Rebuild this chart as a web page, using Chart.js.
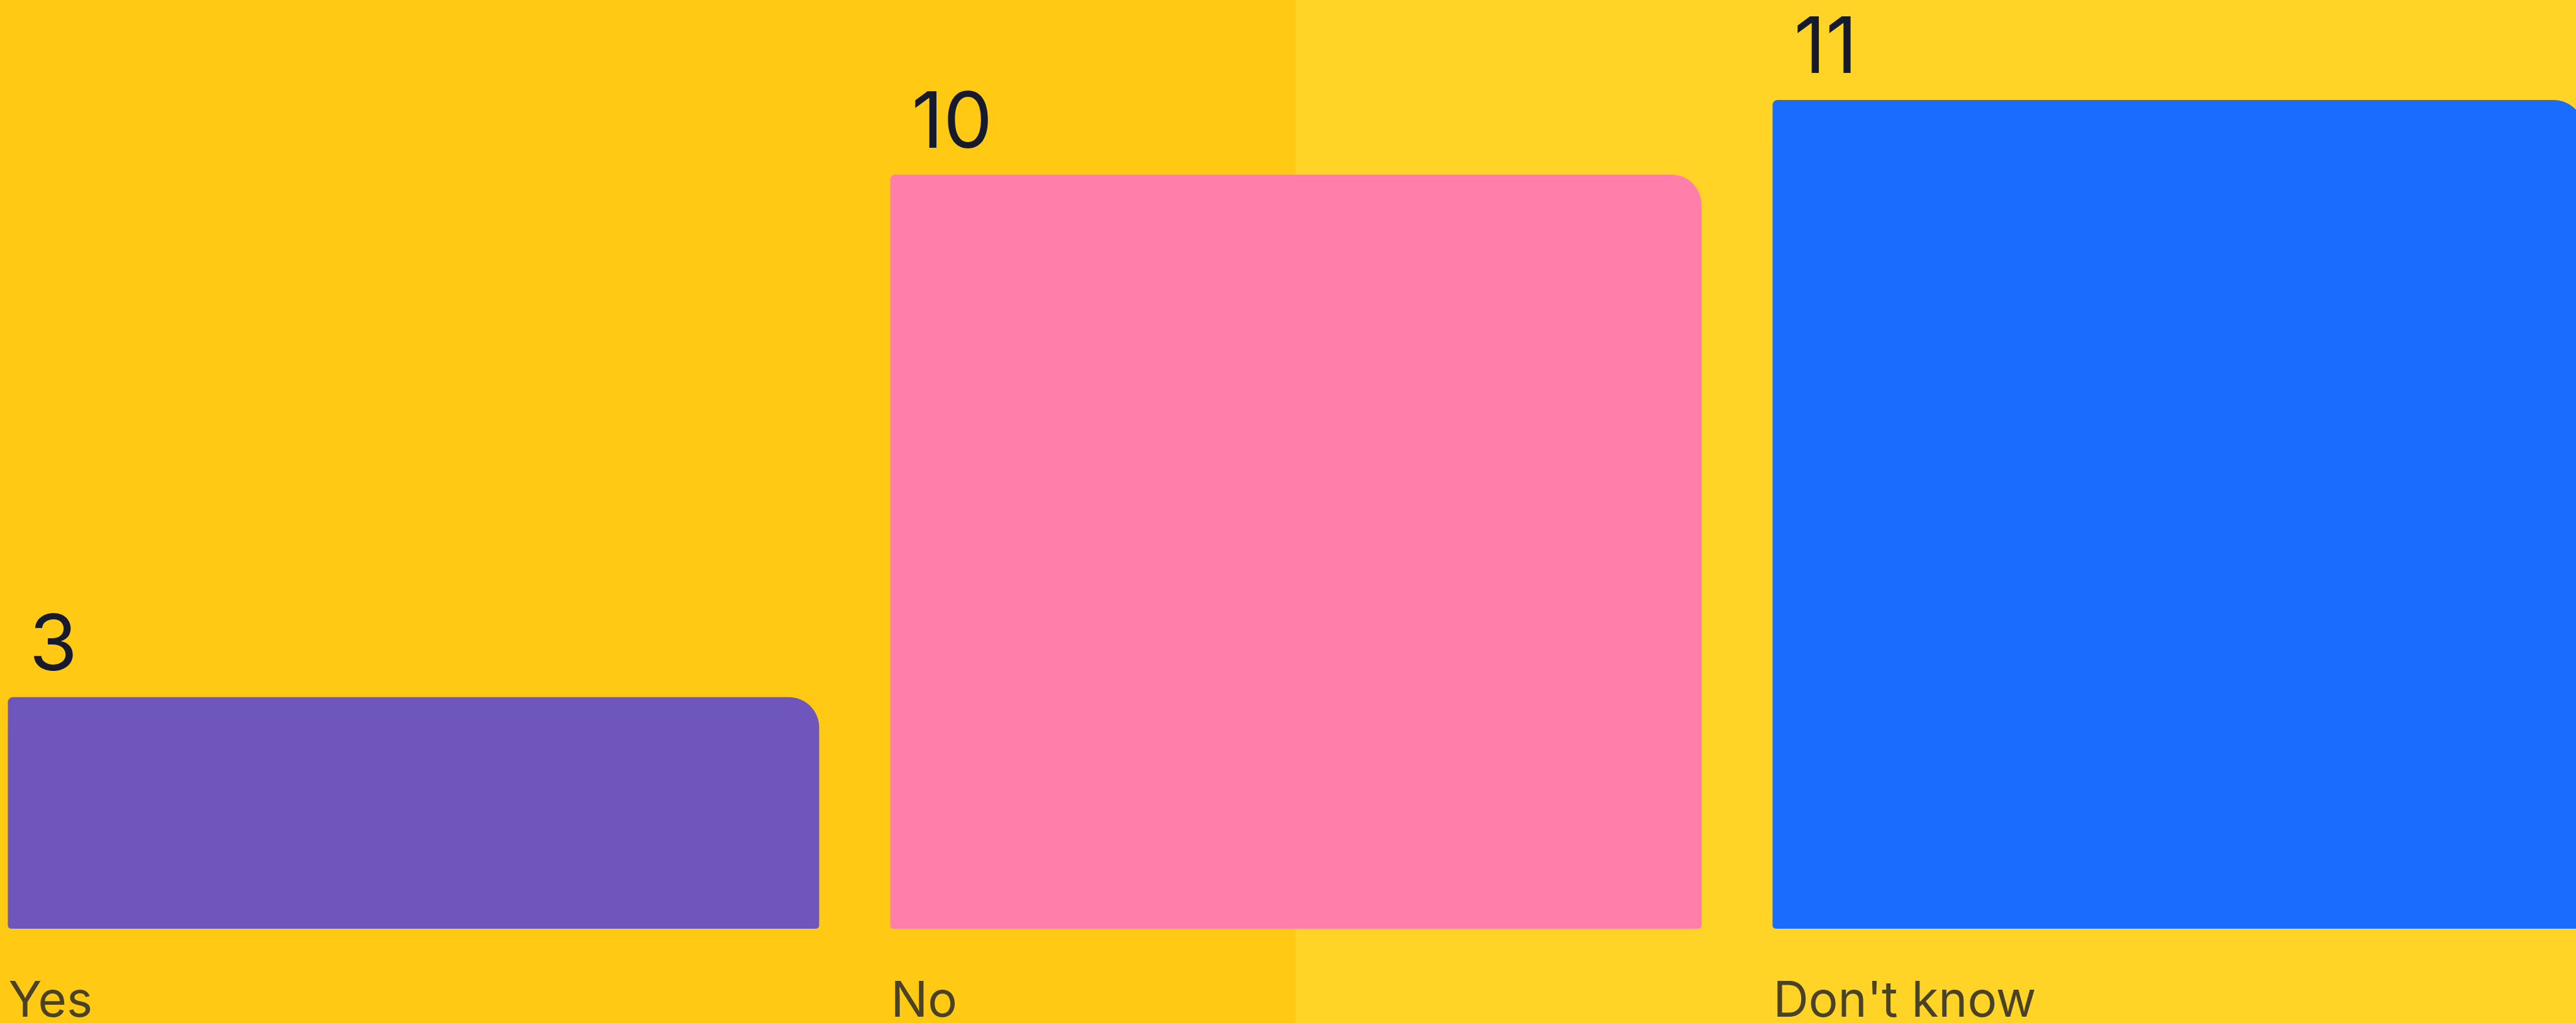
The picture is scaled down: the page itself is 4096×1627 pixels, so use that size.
<!DOCTYPE html>
<html>
<head>
<meta charset="utf-8">
<script src="https://cdn.jsdelivr.net/npm/chart.js@4/dist/chart.umd.min.js"></script>
<style>
  html, body {
    margin: 0;
    padding: 0;
    width: 4096px;
    height: 1627px;
    overflow: hidden;
    /* two-tone page backdrop */
    background: linear-gradient(to right, #FFC914 0, #FFC914 2060px, #FFD426 2060px, #FFD426 100%);
  }
  #wrap {
    position: absolute;
    left: -44px;
    top: 0;
    width: 4209px;
    height: 1627px;
  }
</style>
</head>
<body>
<div id="wrap"><canvas id="chart"></canvas></div>
<script>
// Survey answers
const categories = ['Yes', 'No', "Don't know"];
const responses = [3, 10, 11];
const barColors = ['#6F56BC', '#FF7FAA', '#1A6CFF'];

// Bars start a little below the zero line, like a plinth
const barFoot = -0.101;

// Value printed above the top-left corner of every bar
const valueLabels = {
  id: 'valueLabels',
  afterDatasetsDraw(chart) {
    const ctx = chart.ctx;
    const meta = chart.getDatasetMeta(0);
    ctx.save();
    ctx.font = '400 124px Inter';
    ctx.fillStyle = '#151B2C';
    ctx.textAlign = 'left';
    ctx.textBaseline = 'alphabetic';
    meta.data.forEach((bar, i) => {
      const left = bar.x - bar.width / 2;
      ctx.fillText(String(responses[i]), left + 34, bar.y - 43);
    });
    ctx.restore();
  }
};

new Chart(document.getElementById('chart'), {
  type: 'bar',
  data: {
    labels: categories,
    datasets: [{
      data: responses,
      base: barFoot,
      backgroundColor: barColors,
      borderWidth: 0,
      borderSkipped: false,
      borderRadius: { topLeft: 8, topRight: 48, bottomLeft: 5, bottomRight: 5 },
      categoryPercentage: 1,
      barPercentage: 0.9195
    }]
  },
  options: {
    responsive: true,
    maintainAspectRatio: false,
    devicePixelRatio: 1,
    animation: false,
    layout: { padding: 0 },
    plugins: {
      legend: { display: false },
      tooltip: { enabled: false },
      title: { display: false }
    },
    scales: {
      x: {
        type: 'category',
        offset: true,
        grid: { display: false },
        border: { display: false },
        afterFit(scale) { scale.height = 150; },
        ticks: {
          align: 'start',
          labelOffset: -644,
          padding: 62,
          autoSkip: false,
          maxRotation: 0,
          color: '#4A4224',
          font: { family: 'Inter', size: 78, weight: '400' }
        }
      },
      y: {
        display: false,
        min: barFoot,
        max: 12.339
      }
    }
  },
  plugins: [valueLabels]
});
</script>
</body>
</html>
